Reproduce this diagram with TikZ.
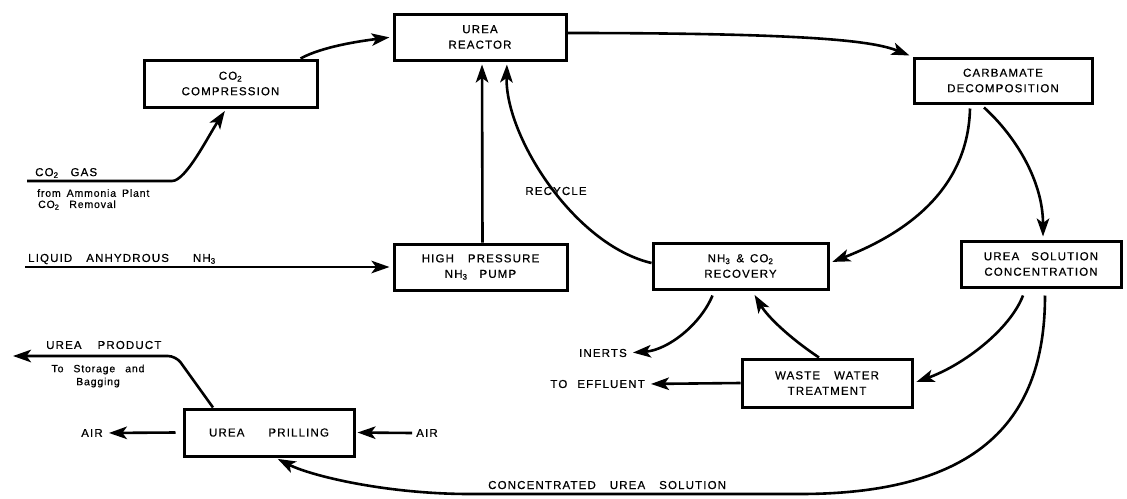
\documentclass[tikz,border=0pt]{standalone}
\usepackage{fontspec}
\setmainfont{Liberation Sans}
\newfontfamily\lab[LetterSpace=10,FakeBold=0.6]{Liberation Sans}
\newfontfamily\smallfam[LetterSpace=8,FakeBold=0.5]{Liberation Sans}
\usetikzlibrary{arrows.meta}
\tikzset{
  box/.style={draw, line width=3pt, rectangle, inner sep=0pt, align=center,
    font=\lab\fontsize{11.5}{15.5}\selectfont},
  arr/.style={line width=2.6pt, -{Stealth[length=18pt,width=12.5pt,inset=4.5pt]}},
  lbl/.style={font=\lab\fontsize{11.5}{13}\selectfont, inner sep=0pt},
  sml/.style={font=\smallfam\fontsize{10.5}{13}\selectfont, inner sep=0pt, align=center}
}
\begin{document}
\begin{tikzpicture}[x=1pt,y=-1pt]
\useasboundingbox (0,0) rectangle (1127,498);

% boxes
\node[box, minimum width=172pt, minimum height=46pt] (reactor) at (480,37) {UREA\\REACTOR};
\node[box, minimum width=173pt, minimum height=47pt] (comp) at (230.5,83.5) {CO\textsubscript{2}\\COMPRESSION};
\node[box, minimum width=178pt, minimum height=45pt] (carb) at (1003,80.5) {CARBAMATE\\DECOMPOSITION};
\node[box, minimum width=173pt, minimum height=46pt] (pump) at (480.5,267) {HIGH\hspace{14pt}PRESSURE\\NH\textsubscript{3}\hspace{12pt}PUMP};
\node[box, minimum width=175pt, minimum height=46pt] (rec) at (740.5,266) {NH\textsubscript{3}\hspace{6pt}\&\hspace{6pt}CO\textsubscript{2}\\RECOVERY};
\node[box, minimum width=160pt, minimum height=46pt] (usol) at (1041,264) {UREA\hspace{12pt}SOLUTION\\CONCENTRATION};
\node[box, minimum width=170pt, minimum height=48pt] (waste) at (827,383) {WASTE\hspace{14pt}WATER\\TREATMENT};
\node[box, minimum width=170pt, minimum height=47pt] (prill) at (269,432.5) {UREA\hspace{24pt}PRILLING};

% labels
\node[lbl, anchor=west] (co2gas) at (35,173) {CO\textsubscript{2}\hspace{12pt}GAS};
\node[sml, anchor=west] (co2src1) at (37,193) {from\hspace{6pt}Ammonia\hspace{6pt}Plant};
\node[sml, anchor=west] (co2src2) at (38,205) {CO\textsubscript{2}\hspace{10pt}Removal};
\node[lbl, anchor=west] (nh3lbl) at (28,259) {LIQUID\hspace{14pt}ANHYDROUS\hspace{24pt}NH\textsubscript{3}};
\node[lbl] (recyc) at (556,191) {RECYCLE};
\node[lbl, anchor=west] (prodlbl) at (46,345) {UREA\hspace{16pt}PRODUCT};
\node[sml] (prodsub) at (98,376) {To\hspace{10pt}Storage\hspace{10pt}and\\Bagging};
\node[lbl] (airL) at (92,433) {AIR};
\node[lbl] (airR) at (427,433) {AIR};
\node[lbl, anchor=east] (inerts) at (627,353) {INERTS};
\node[lbl, anchor=east] (effl) at (645,384) {TO\hspace{10pt}EFFLUENT};
\node[lbl, anchor=base west] (conclbl) at (488,489) {CONCENTRATED\hspace{14pt}UREA\hspace{14pt}SOLUTION};

% free ends
\coordinate (co2start) at (27,181);
\coordinate (co2bend) at (172,181);
\coordinate (nh3start) at (25,267);
\coordinate (pbend) at (176,356);
\coordinate (ptip) at (13,356);
\coordinate (cbot1) at (800,494);
\coordinate (cbot2) at (470,494);

% connectors
\draw[arr, shorten >=3pt] (co2start) -- (co2bend) .. controls +(14,0) and +(-18,27) .. ([xshift=-4pt]comp.south);
\draw[arr, shorten >=3pt] ([xshift=70pt]comp.north) .. controls +(22,-12) and +(-32,4) .. (reactor.west);
\draw[arr, shorten >=3pt] ([xshift=2pt]pump.north) -- ([xshift=2pt]reactor.south);
\draw[arr, shorten >=3pt] ([yshift=3pt]rec.west) .. controls +(-77,-18) and +(-2,75) .. ([xshift=27pt]reactor.south);
\draw[arr] ([yshift=4pt]reactor.east) .. controls +(250,0) and +(-35,-14) .. ([shift={(-3pt,1pt)}]carb.north west);
\draw[arr, shorten >=3pt] ([xshift=-33pt,yshift=-4pt]carb.south) .. controls +(-2,84) and +(72,-28) .. ([yshift=3pt]rec.east);
\draw[arr, shorten >=3pt] ([xshift=-19pt,yshift=-3pt]carb.south) .. controls +(32,29) and +(0,-58) .. ([xshift=2pt]usol.north);
\draw[arr, shorten >=3pt] (nh3start) -- (pump.west);
\draw[arr, shorten >=6pt] ([xshift=-28pt,yshift=-5pt]rec.south) .. controls +(-12,29) and +(41,-3) .. (inerts.east);
\draw[arr, shorten >=4pt] ([xshift=-8pt]waste.north) .. controls +(-30,-20) and +(15,25) .. ([xshift=12pt,yshift=-1pt]rec.south);
\draw[arr, shorten >=6pt] (waste.west) -- (effl.east);
\draw[arr, shorten >=3pt] ([xshift=-18pt,yshift=-7pt]usol.south) .. controls +(-13,34) and +(50,-18) .. (waste.east);
\draw[arr, shorten >=3pt] ([xshift=4pt,yshift=-7pt]usol.south) .. controls +(0,114) and +(190,0) .. (cbot1) -- (cbot2) .. controls +(-85,0) and +(35,18) .. ([xshift=6pt]prill.south);
\draw[arr, rounded corners=8pt] ([xshift=-56pt]prill.north) -- (pbend) -- (ptip);
\draw[arr, shorten >=2pt] ([xshift=-4pt]airR.west) -- (prill.east);
\draw[arr, shorten >=6pt] ([xshift=-7pt]prill.west) -- (airL.east);
\end{tikzpicture}
\end{document}
